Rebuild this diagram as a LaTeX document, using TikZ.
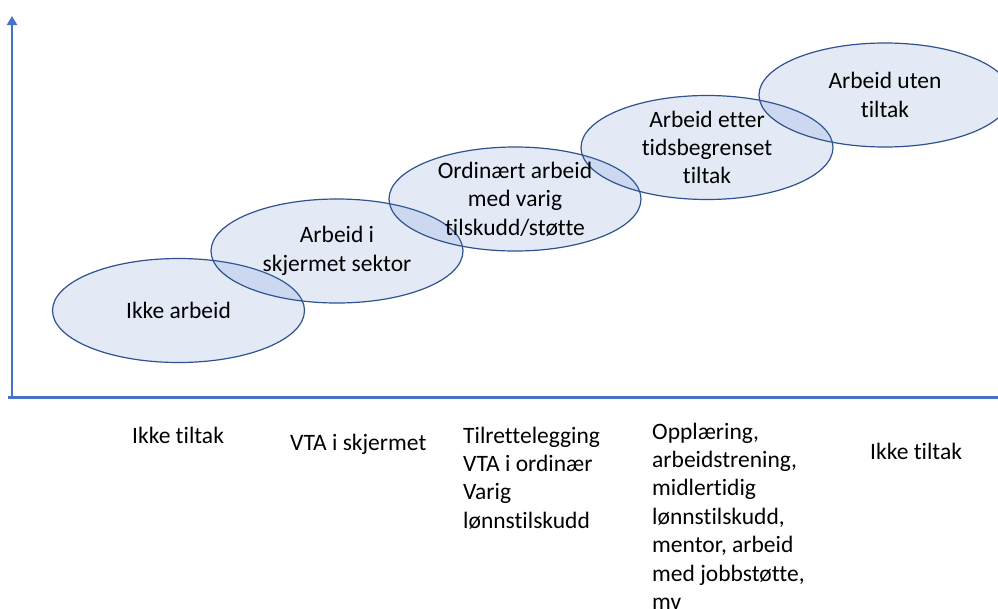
\documentclass[tikz,border=0pt]{standalone}
\usepackage{fontspec}
\setmainfont{Carlito}[Ligatures=NoCommon]
\usetikzlibrary{shapes.geometric,arrows.meta}
\definecolor{axisblue}{HTML}{4472C4}
\definecolor{rimblue}{HTML}{2F528F}
\begin{document}
\begin{tikzpicture}[x=1pt,y=-1pt,
  stage/.style={ellipse,draw=rimblue,line width=1.2pt,fill=axisblue,fill opacity=0.15,
    minimum width=252pt,minimum height=104pt,inner sep=0pt},
  txt/.style={align=center,font=\fontsize{23.5}{28.4}\selectfont,inner sep=0pt},
  lbl/.style={align=left,anchor=base west,font=\fontsize{23.5}{28.4}\selectfont,inner sep=0pt},
  axis/.style={draw=axisblue,line width=2.5pt}]
\clip (0,0) rectangle (998,608);
% axes
\coordinate (o) at (12,397);
\coordinate (ytop) at (12,16);
\coordinate (xend) at (1000,397);
\draw[axis,-{Triangle[width=10pt,length=9pt]}] (o) -- (ytop);
\draw[axis,line width=3pt] (8,397) -- (xend);
% stages
\node[stage] (s1) at (178.5,310.5) {};
\node[stage] (s2) at (337,251) {};
\node[stage] (s3) at (515,199) {};
\node[stage] (s4) at (707,147.5) {};
\node[stage] (s5) at (885,95) {};
\node[txt] (t1) at (s1) {Ikke arbeid};
\node[txt] (t2) at (s2) {Arbeid i\\skjermet sektor};
\node[txt] (t3) at (s3) {Ordinært arbeid\\med varig\\tilskudd/støtte};
\node[txt] (t4) at (s4) {Arbeid etter\\tidsbegrenset\\tiltak};
\node[txt] (t5) at (s5) {Arbeid uten\\tiltak};
% tiltak under the axis (base = last line)
\node[lbl] (l1) at (132,443) {Ikke tiltak};
\node[lbl] (l2) at (290,450) {VTA i skjermet};
\node[lbl] (l3) at (463,528.2) {Tilrettelegging\\VTA i ordinær\\Varig\\lønnstilskudd};
\node[lbl] (l4) at (652,609.4) {Opplæring,\\arbeidstrening,\\midlertidig\\lønnstilskudd,\\mentor, arbeid\\med jobbstøtte,\\mv};
\node[lbl] (l5) at (870,459) {Ikke tiltak};
\end{tikzpicture}
\end{document}
